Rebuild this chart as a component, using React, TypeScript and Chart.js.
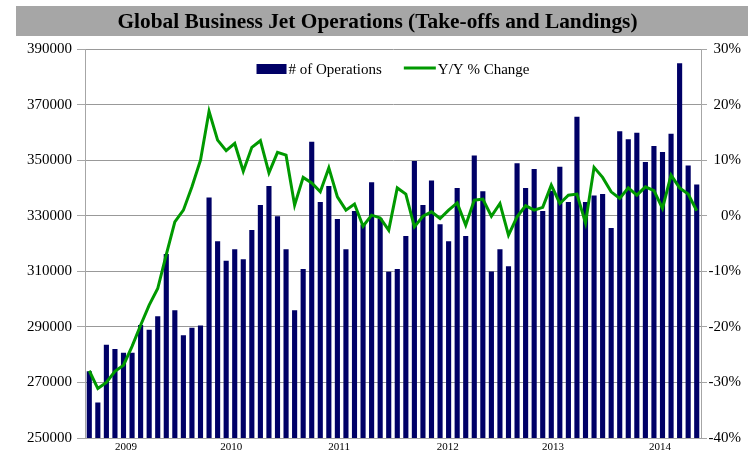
import React, { useEffect, useRef } from 'react';
import { Chart, registerables } from 'chart.js';

Chart.register(...registerables);

const TITLE = 'Global Business Jet Operations (Take-offs and Landings)';
const OPS_LABEL = '# of Operations';
const YOY_LABEL = 'Y/Y % Change';

// 72 monthly observations
const categories: string[] = [];
for (let i = 0; i < 72; i++) {
  const y = 2009 + Math.floor((i + 1) / 12);
  const m = ((i + 1) % 12) + 1;
  categories.push(`${y}-${String(m).padStart(2, '0')}`);
}

const operations = [
  274000, 262800, 283600, 282000, 280700, 280700, 290700, 289000, 293800, 316200, 296000, 287000,
  289700, 290500, 336600, 320800, 313800, 317900, 314300, 324900, 333900, 340700, 329800, 317900,
  296000, 310800, 356600, 334900, 340700, 328800, 317900, 331700, 326800, 342000, 329000, 309800,
  310800, 322700, 349700, 333900, 342700, 326900, 320800, 340000, 322700, 351700, 338800, 309900,
  317900, 311800, 348900, 340000, 346800, 331700, 339000, 347600, 334900, 365600, 334900, 337300,
  337800, 325600, 360400, 357500, 359900, 349300, 355100, 352900, 359500, 384900, 348100, 341200,
];

const yoyChange = [
  -27.9, -31.1, -30.0, -28.0, -26.9, -23.5, -19.7, -16.1, -13.1, -7.0, -1.1, 1.0,
  5.2, 10.0, 18.8, 13.6, 11.7, 13.0, 8.0, 12.3, 13.5, 7.7, 11.4, 10.9,
  1.9, 6.9, 5.9, 4.3, 8.6, 3.4, 1.0, 2.1, -1.9, 0.1, -0.4, -2.6,
  5.0, 3.9, -2.0, -0.1, 0.7, -0.5, 1.0, 2.3, -1.7, 2.8, 3.0, -0.1,
  2.2, -3.5, -0.2, 1.8, 1.0, 1.5, 5.5, 2.2, 3.7, 3.9, -1.3, 8.7,
  6.9, 4.3, 3.1, 5.0, 3.7, 5.2, 4.5, 1.3, 7.3, 5.0, 3.9, 0.9,
];

const yearLabels = ['2009', '2010', '2011', '2012', '2013', '2014'];
// label positions in category-index units
const yearLabelPos = [4.3, 16.6, 29.2, 41.9, 54.2, 66.7];

const FONT = "'Liberation Serif', 'Times New Roman', serif";
const NAVY = '#000066';
const GREEN = '#009900';

const titlePlugin = {
  id: 'grayTitle',
  beforeDraw(chart: any) {
    const ctx = chart.ctx;
    ctx.save();
    ctx.fillStyle = '#a6a6a6';
    ctx.fillRect(16, 6, 732, 30);
    ctx.font = `bold 22px ${FONT}`;
    const w = ctx.measureText(TITLE).width;
    const sx = Math.min(1, 520 / w);
    ctx.translate(377.5, 22);
    ctx.scale(sx, 1);
    ctx.fillStyle = '#000';
    ctx.textAlign = 'center';
    ctx.textBaseline = 'middle';
    ctx.fillText(TITLE, 0, 0);
    ctx.restore();
  },
};

const legendPlugin = {
  id: 'innerLegend',
  afterDatasetsDraw(chart: any) {
    const ctx = chart.ctx;
    const area = chart.chartArea;
    ctx.save();
    ctx.font = `15px ${FONT}`;
    const w1 = ctx.measureText(OPS_LABEL).width;
    const w2 = ctx.measureText(YOY_LABEL).width;
    const boxW = 30, gap = 2, between = 22, lineW = 32;
    const total = boxW + gap + w1 + between + lineW + gap + w2;
    let x = (area.left + area.right) / 2 - total / 2;
    const cy = area.top + 20;
    ctx.fillStyle = NAVY;
    ctx.fillRect(x, cy - 5, boxW, 10);
    x += boxW + gap;
    ctx.fillStyle = '#000';
    ctx.textBaseline = 'middle';
    ctx.textAlign = 'left';
    ctx.fillText(OPS_LABEL, x, cy + 1);
    x += w1 + between;
    ctx.strokeStyle = GREEN;
    ctx.lineWidth = 3;
    ctx.beginPath();
    ctx.moveTo(x, cy - 1);
    ctx.lineTo(x + lineW, cy - 1);
    ctx.stroke();
    x += lineW + gap;
    ctx.fillText(YOY_LABEL, x, cy + 1);
    ctx.restore();
  },
};

export default function App() {
  const ref = useRef<HTMLCanvasElement | null>(null);

  useEffect(() => {
    if (!ref.current) return;
    const chart = new Chart(ref.current, {
      data: {
        labels: categories,
        datasets: [
          {
            type: 'line',
            label: YOY_LABEL,
            data: yoyChange,
            yAxisID: 'y1',
            xAxisID: 'x',
            borderColor: GREEN,
            backgroundColor: GREEN,
            borderWidth: 3,
            pointRadius: 0,
            tension: 0,
            order: 0,
          },
          {
            type: 'bar',
            label: OPS_LABEL,
            data: operations,
            yAxisID: 'y',
            xAxisID: 'x',
            backgroundColor: NAVY,
            borderWidth: 0,
            barPercentage: 0.6,
            categoryPercentage: 1,
            order: 1,
          },
        ],
      } as any,
      options: {
        responsive: false,
        animation: false,
        layout: { padding: { top: 49, right: 10, left: 0, bottom: 0 } },
        plugins: {
          legend: { display: false },
          tooltip: { enabled: false },
          title: { display: false },
        },
        scales: {
          x: { type: 'category', display: false, offset: true },
          x2: {
            type: 'linear',
            position: 'bottom',
            min: -0.5,
            max: 71.5,
            grid: { display: false, drawTicks: false },
            border: { display: true, color: '#a6a6a6', width: 1 },
            afterBuildTicks: (s: any) => {
              s.ticks = yearLabelPos.map((v) => ({ value: v }));
            },
            ticks: {
              callback: (_v: any, i: number) => yearLabels[i],
              font: { family: FONT, size: 11 },
              color: '#000',
              padding: 3,
              autoSkip: false,
              maxRotation: 0,
            },
            afterFit: (s: any) => {
              s.height = 21;
            },
          },
          y: {
            type: 'linear',
            position: 'left',
            min: 250000,
            max: 390000,
            ticks: {
              stepSize: 20000,
              callback: (v: any) => String(v),
              font: { family: FONT, size: 15 },
              color: '#000',
              padding: 5,
            },
            grid: { color: '#999999', tickLength: 8, tickColor: '#a6a6a6' },
            border: { color: '#a6a6a6', width: 1 },
            afterFit: (s: any) => {
              s.width = 85;
            },
          },
          y1: {
            type: 'linear',
            position: 'right',
            min: -40,
            max: 30,
            ticks: {
              stepSize: 10,
              callback: (v: any) => `${v}%`,
              font: { family: FONT, size: 15 },
              color: '#000',
              padding: 5,
              crossAlign: 'far',
            },
            grid: { drawOnChartArea: false, tickLength: 6, color: '#a6a6a6' },
            border: { color: '#a6a6a6', width: 1 },
            afterFit: (s: any) => {
              s.width = 40;
            },
          },
        },
      } as any,
      plugins: [titlePlugin, legendPlugin],
    });
    return () => chart.destroy();
  }, []);

  return (
    <div style={{ position: 'fixed', left: 0, top: 0, width: 751, height: 459, background: '#fff' }}>
      <canvas ref={ref} width={751} height={459} style={{ display: 'block' }} />
    </div>
  );
}
